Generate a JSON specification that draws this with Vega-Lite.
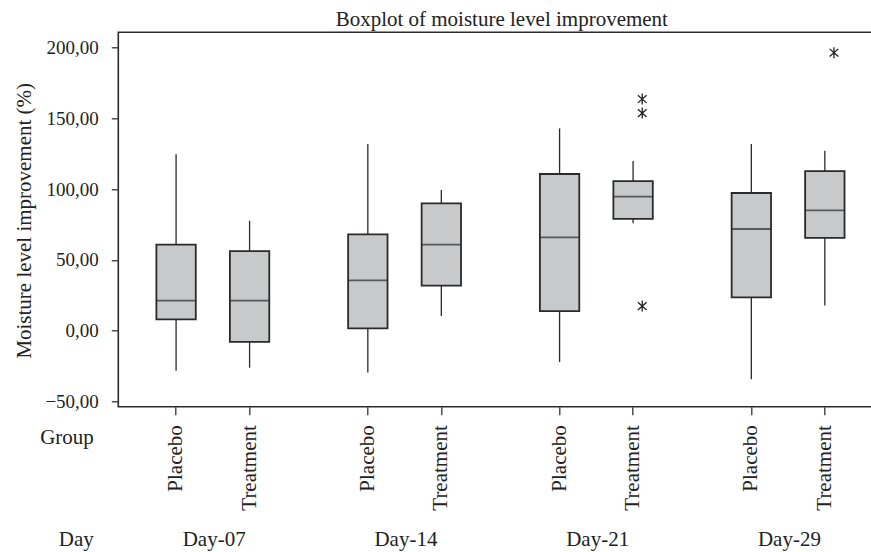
{
  "$schema": "https://vega.github.io/schema/vega-lite/v6.json",
  "width": 767,
  "height": 374.4,
  "autosize": {"type": "none"},
  "padding": {"left": 118.3, "top": 32.3, "right": -14, "bottom": 145.3},
  "background": "white",
  "title": {"text": "Boxplot of moisture level improvement", "font": "Liberation Serif", "fontSize": 21, "fontWeight": "normal", "color": "#222", "anchor": "middle", "frame": "group", "baseline": "alphabetic", "offset": 9, "dy": 23.5},
  "config": {
    "view": {"stroke": "#2a2a2a", "strokeWidth": 1.6},
    "axis": {"labelFont": "Liberation Serif", "titleFont": "Liberation Serif", "labelColor": "#222", "titleColor": "#222", "tickColor": "#333", "domainColor": "#333", "grid": false, "titleFontWeight": "normal", "tickWidth": 1.3}
  },
  "datasets": {
    "stats": [
      {"Day": "Day-07", "Group": "Placebo", "lower": -28.2, "q1": 8.0, "median": 21.2, "q3": 60.7, "upper": 124.6},
      {"Day": "Day-07", "Group": "Treatment", "lower": -26.1, "q1": -7.8, "median": 21.2, "q3": 56.2, "upper": 77.6},
      {"Day": "Day-14", "Group": "Placebo", "lower": -29.4, "q1": 1.7, "median": 35.6, "q3": 68.0, "upper": 131.8},
      {"Day": "Day-14", "Group": "Treatment", "lower": 10.4, "q1": 31.8, "median": 60.7, "q3": 89.9, "upper": 99.3},
      {"Day": "Day-21", "Group": "Placebo", "lower": -22.1, "q1": 13.9, "median": 65.9, "q3": 110.6, "upper": 142.8},
      {"Day": "Day-21", "Group": "Treatment", "lower": 75.8, "q1": 79.0, "median": 94.6, "q3": 105.6, "upper": 119.8},
      {"Day": "Day-29", "Group": "Placebo", "lower": -34.3, "q1": 23.6, "median": 71.8, "q3": 97.2, "upper": 131.8},
      {"Day": "Day-29", "Group": "Treatment", "lower": 17.9, "q1": 65.6, "median": 85.0, "q3": 112.7, "upper": 127.0}
    ],
    "outliers": [
      {"Day": "Day-21", "Group": "Treatment", "value": 163.5},
      {"Day": "Day-21", "Group": "Treatment", "value": 153.6},
      {"Day": "Day-21", "Group": "Treatment", "value": 17.4},
      {"Day": "Day-29", "Group": "Treatment", "value": 196.2}
    ]
  },
  "resolve": {"scale": {"x": "independent", "xOffset": "independent"}, "axis": {"x": "independent"}},
  "layer": [
    {
      "data": {"name": "stats"},
      "mark": {"type": "rule", "color": "#2a2a2a", "strokeWidth": 1.3},
      "encoding": {
        "x": {"field": "Day", "type": "nominal", "scale": {"domain": ["Day-07", "Day-14", "Day-21", "Day-29"], "paddingInner": 0, "paddingOuter": 0},
          "axis": {"orient": "bottom", "bandPosition": 0.3015, "labelOffset": -38, "labelExpr": "'Placebo'", "labelAngle": -90, "labelAlign": "right", "labelBaseline": "middle", "labelFontSize": 21, "labelPadding": 10, "tickSize": 8, "domain": false, "title": "Group", "titleFontSize": 21, "titleAlign": "right", "titleBaseline": "alphabetic", "titleX": -25, "titleY": 36.5, "titleAngle": 0}},
        "xOffset": {"field": "Group", "type": "nominal", "scale": {"domain": ["Placebo", "Treatment"], "paddingInner": 0.464, "paddingOuter": 0.5364, "align": 0.483}},
        "y": {"field": "lower", "type": "quantitative", "scale": {"domain": [-53.6, 210.6], "nice": false, "zero": false},
          "axis": {"title": "Moisture level improvement (%)", "values": [-50, 0, 50, 100, 150, 200], "labelExpr": "replace(format(datum.value, '.2f'), '.', ',')", "labelFontSize": 19, "titleFontSize": 21, "tickSize": 7, "labelPadding": 13, "domain": false, "titleX": -94, "titleY": 188, "titleAngle": -90, "titleAlign": "center", "titleBaseline": "middle"}},
        "y2": {"field": "upper"}
      }
    },
    {
      "data": {"name": "stats"},
      "mark": {"type": "bar", "fill": "#c8c9cb", "stroke": "#2a2a2a", "strokeWidth": 1.8, "width": {"band": 1}},
      "encoding": {
        "x": {"field": "Day", "type": "nominal", "scale": {"domain": ["Day-07", "Day-14", "Day-21", "Day-29"], "paddingInner": 0, "paddingOuter": 0},
          "axis": {"orient": "bottom", "bandPosition": 0.6848, "labelOffset": 35.5, "labelExpr": "'Treatment'", "labelAngle": -90, "labelAlign": "right", "labelBaseline": "middle", "labelFontSize": 21, "labelPadding": 10, "tickSize": 8, "domain": false, "title": null}},
        "xOffset": {"field": "Group", "type": "nominal", "scale": {"domain": ["Placebo", "Treatment"], "paddingInner": 0.464, "paddingOuter": 0.5364, "align": 0.483}},
        "y": {"field": "q1", "type": "quantitative", "scale": {"domain": [-53.6, 210.6], "nice": false, "zero": false},
          "axis": {"title": "Moisture level improvement (%)", "values": [-50, 0, 50, 100, 150, 200], "labelExpr": "replace(format(datum.value, '.2f'), '.', ',')", "labelFontSize": 19, "titleFontSize": 21, "tickSize": 7, "labelPadding": 13, "domain": false, "titleX": -94, "titleY": 188, "titleAngle": -90, "titleAlign": "center", "titleBaseline": "middle"}},
        "y2": {"field": "q3"}
      }
    },
    {
      "data": {"name": "stats"},
      "mark": {"type": "tick", "color": "#2a2a2a", "thickness": 1.8, "size": 39},
      "encoding": {
        "x": {"field": "Day", "type": "nominal", "scale": {"domain": ["Day-07", "Day-14", "Day-21", "Day-29"], "paddingInner": 0, "paddingOuter": 0},
          "axis": {"orient": "bottom", "bandPosition": 0.5, "ticks": false, "tickSize": 0, "domain": false, "labelAngle": 0, "labelAlign": "center", "labelBaseline": "alphabetic", "labelFontSize": 21, "labelPadding": 139, "title": "Day", "titleFontSize": 21, "titleAlign": "right", "titleBaseline": "alphabetic", "titleX": -25, "titleY": 139, "titleAngle": 0}},
        "xOffset": {"field": "Group", "type": "nominal", "scale": {"domain": ["Placebo", "Treatment"], "paddingInner": 0.464, "paddingOuter": 0.5364, "align": 0.483}},
        "y": {"field": "median", "type": "quantitative", "scale": {"domain": [-53.6, 210.6], "nice": false, "zero": false},
          "axis": {"title": "Moisture level improvement (%)", "values": [-50, 0, 50, 100, 150, 200], "labelExpr": "replace(format(datum.value, '.2f'), '.', ',')", "labelFontSize": 19, "titleFontSize": 21, "tickSize": 7, "labelPadding": 13, "domain": false, "titleX": -94, "titleY": 188, "titleAngle": -90, "titleAlign": "center", "titleBaseline": "middle"}}
      }
    },
    {
      "data": {"name": "outliers"},
      "mark": {"type": "point", "shape": "M0,-1L0,1M-0.8,-0.7L0.8,0.7M-0.8,0.7L0.8,-0.7", "size": 120, "stroke": "#222", "strokeWidth": 1.3, "filled": false, "opacity": 1},
      "encoding": {
        "x": {"field": "Day", "type": "nominal", "scale": {"domain": ["Day-07", "Day-14", "Day-21", "Day-29"], "paddingInner": 0, "paddingOuter": 0}, "axis": null},
        "xOffset": {"field": "Group", "type": "nominal", "scale": {"domain": ["Placebo", "Treatment"], "paddingInner": 0.464, "paddingOuter": 0.5364, "align": 0.483}},
        "y": {"field": "value", "type": "quantitative", "scale": {"domain": [-53.6, 210.6], "nice": false, "zero": false},
          "axis": {"title": "Moisture level improvement (%)", "values": [-50, 0, 50, 100, 150, 200], "labelExpr": "replace(format(datum.value, '.2f'), '.', ',')", "labelFontSize": 19, "titleFontSize": 21, "tickSize": 7, "labelPadding": 13, "domain": false, "titleX": -94, "titleY": 188, "titleAngle": -90, "titleAlign": "center", "titleBaseline": "middle"}}
      }
    }
  ]
}
